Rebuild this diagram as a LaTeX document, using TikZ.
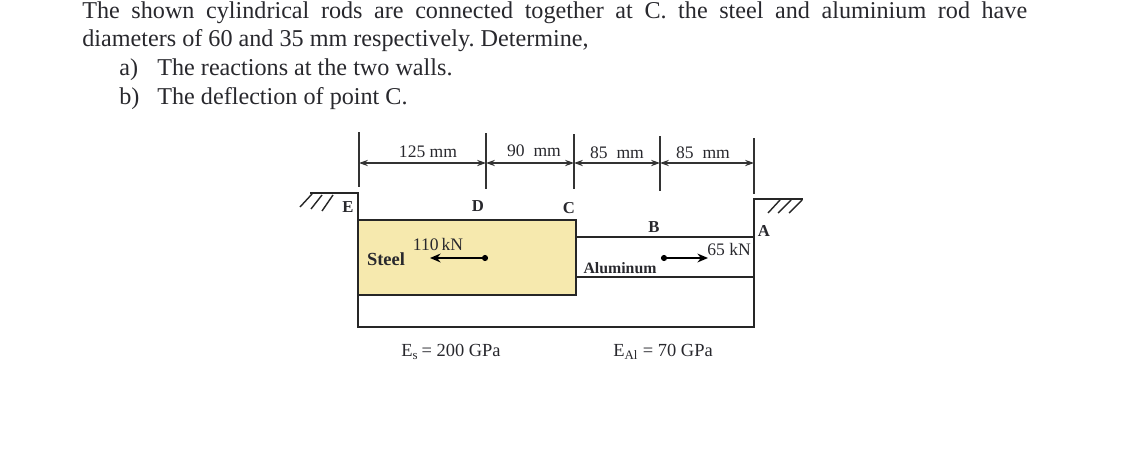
\documentclass[tikz,border=0pt]{standalone}
\usepackage{fontspec}
\setmainfont{Liberation Serif}
\usetikzlibrary{arrows.meta}
\definecolor{steelfill}{RGB}{246,233,174}
\definecolor{inktext}{RGB}{40,40,45}
\tikzset{
  prose/.style={anchor=base west,inner sep=0pt,font=\fontsize{13.75}{16}\selectfont\frenchspacing,text=inktext},
  dimlabel/.style={inner sep=0pt,font=\fontsize{10}{12}\selectfont,text=inktext},
  tag/.style={inner sep=0pt,font=\fontsize{9.5}{11}\selectfont\bfseries,text=inktext},
  dimline/.style={line width=0.9pt,{Stealth[length=5pt,width=3.5pt]}-{Stealth[length=5pt,width=3.5pt]},draw=black!80},
  tickline/.style={line width=0.9pt,draw=black!80},
  rodline/.style={line width=1.3pt,draw=black!85},
  hatchline/.style={line width=0.8pt,draw=black!85},
  forceline/.style={line width=1.3pt,-{Stealth[length=6pt,width=5pt]},draw=black}
}
\begin{document}
\begin{tikzpicture}[x=0.02cm,y=-0.02cm]
\useasboundingbox (0,0) rectangle (1145,463);
\node [prose] (line1) at (82,18) {\makebox[18.9cm][s]{The shown cylindrical rods are connected together at C. the steel and aluminium rod have}};
\node [prose] (line2) at (82,46) {diameters of 60 and 35 mm respectively. Determine,};
\node [prose] (parta) at (119,75) {a)};
\node [prose] (partat) at (157,75) {The reactions at the two walls.};
\node [prose] (partb) at (119,104) {b)};
\node [prose] (partbt) at (157,104) {The deflection of point C.};
% ticks
\coordinate (e1) at (359,132); \coordinate (e2) at (359,187);
\coordinate (d1) at (486,133); \coordinate (d2) at (486,189);
\coordinate (c1) at (574,134); \coordinate (c2) at (574,189);
\coordinate (b1) at (660,136); \coordinate (b2) at (660,191);
\coordinate (a1) at (754,138); \coordinate (a2) at (754,194);
\draw [tickline] (e1) -- (e2);
\draw [tickline] (d1) -- (d2);
\draw [tickline] (c1) -- (c2);
\draw [tickline] (b1) -- (b2);
\draw [tickline] (a1) -- (a2);
% dimensions
\coordinate (de) at (359,163); \coordinate (dd) at (486,163);
\coordinate (dc) at (574,163); \coordinate (db) at (660,163);
\coordinate (da) at (754,163);
\draw [dimline] (de) -- (dd);
\draw [dimline] (dd) -- (dc);
\draw [dimline] (dc) -- (db);
\draw [dimline] (db) -- (da);
\node [dimlabel] (l125) at (428,152) {125 mm};
\node [dimlabel] (l90) at (534,151) {90\ \ mm};
\node [dimlabel] (l85a) at (617,153) {85\ \ mm};
\node [dimlabel] (l85b) at (703,153) {85\ \ mm};
% rods
\draw [rodline,fill=steelfill] (358,220) rectangle (576,295);
\draw [rodline] (576,237) -- (754,237);
\draw [rodline] (576,277) -- (754,277);
\draw [rodline] (310,193) -- (358,193) -- (358,327) -- (754,327) -- (754,199) -- (803,199);
% wall hatching
\draw [hatchline] (300,207) -- (312,194);
\draw [hatchline] (311,209) -- (322,195);
\draw [hatchline] (322,211) -- (333,195);
\draw [hatchline] (768,213) -- (780,200);
\draw [hatchline] (778,213) -- (791,200);
\draw [hatchline] (789,213) -- (802,200);
% labels
\node [tag] (E) at (348,207) {E};
\node [tag] (D) at (478,206) {D};
\node [tag] (C) at (569,208) {C};
\node [tag] (B) at (654,227) {B};
\node [tag] (A) at (764,231) {A};
\node [tag,font=\fontsize{10.5}{12}\selectfont\bfseries] (steel) at (386,259) {Steel};
\node [tag,font=\fontsize{9}{10}\selectfont\bfseries] (alu) at (620,268) {Aluminum};
% forces
\node [dimlabel] (f110) at (438,244) {110\,kN};
\node [dimlabel] (f65) at (729,249) {65 kN};
\node [circle,fill=black,inner sep=0pt,minimum size=3.5pt] (p110) at (485,258) {};
\node [circle,fill=black,inner sep=0pt,minimum size=3.5pt] (p65) at (664,258) {};
\coordinate (t110) at (430,258);
\coordinate (t65) at (708,258);
\draw [forceline] (p110) -- (t110);
\draw [forceline] (p65) -- (t65);
\node [dimlabel,font=\fontsize{10.5}{12}\selectfont] (es) at (451,352) {E\textsubscript{s}\,= 200 GPa};
\node [dimlabel,font=\fontsize{10.5}{12}\selectfont] (eal) at (663,352) {E\textsubscript{Al} = 70 GPa};
\end{tikzpicture}
\end{document}
